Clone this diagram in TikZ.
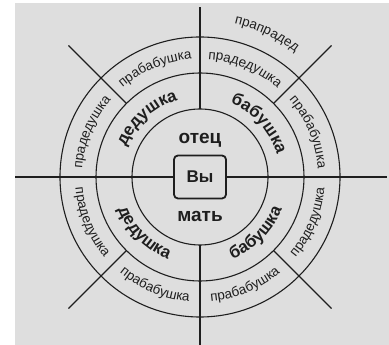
\documentclass[tikz,border=0pt]{standalone}
\usepackage{fontspec}
\setmainfont{Liberation Sans}
\usetikzlibrary{positioning}
\usetikzlibrary{decorations.text}
\definecolor{bggray}{RGB}{222,222,222}
\definecolor{inkgray}{RGB}{30,30,30}
\newcommand{\greatfont}{\fontsize{13.5}{16}\selectfont}
\newcommand{\grandfont}{\fontsize{17}{20}\selectfont\bfseries}
\tikzset{
        ring/.style={draw=inkgray, line width=1.1pt},
        spoke/.style={draw=inkgray, line width=1.1pt},
        youbox/.style={draw=inkgray, line width=1.8pt, rounded corners=4pt,
          minimum width=52pt, minimum height=43pt, inner sep=0pt,
          font=\fontsize{17}{20}\selectfont\bfseries, text=inkgray},
        parent/.style={font=\fontsize{19}{22}\selectfont\bfseries, text=inkgray},
        arclabel/.style={decorate, decoration={text along path, text align=center,
          text color=inkgray, text={#1}}},
}

\begin{document}
\begin{tikzpicture}
      \useasboundingbox (0,0) rectangle (389pt,345pt);
      \fill[bggray] (15pt,0) rectangle (389pt,342pt);
      \begin{scope}[shift={(200pt,168pt)}]
        % rings
        \draw[ring] (0,0) circle[radius=68pt];
        \draw[ring] (0,0) circle[radius=104pt];
        \draw[ring] (0,0) circle[radius=140pt];

        % centre
        \node[youbox] (you) at (0,0) {Вы};
        \node[parent] (father) at (0,37pt) {отец};
        \node[parent] (mother) at (0,-39pt) {мать};

        % axes
        \coordinate (northin) at (90:68pt);
        \coordinate (northend) at (0,170pt);
        \coordinate (southin) at (-90:68pt);
        \coordinate (southend) at (0,-168pt);
        \coordinate (westend) at (-185pt,0);
        \coordinate (eastend) at (187pt,0);
        \draw[spoke] (northin) -- (northend);
        \draw[spoke] (southin) -- (southend);
        \draw[spoke] (you.west) -- (westend);
        \draw[spoke] (you.east) -- (eastend);

        % diagonals
        \foreach \a in {45,135,225,315}
          \draw[spoke] (\a:104pt) -- (\a:186pt);

        % grandparents
        \path[arclabel={|\grandfont|дедушка}] (180:80pt) arc[start angle=180, end angle=84, radius=80pt];
        \path[arclabel={|\grandfont|бабушка}] (88:80pt) arc[start angle=88, end angle=-4, radius=80pt];
        \path[arclabel={|\grandfont|дедушка}] (180:88pt) arc[start angle=180, end angle=270, radius=88pt];
        \path[arclabel={|\grandfont|бабушка}] (270:88pt) arc[start angle=270, end angle=360, radius=88pt];

        % great-grandparents
        \path[arclabel={|\greatfont|прадедушка}] (180:118pt) arc[start angle=180, end angle=135, radius=118pt];
        \path[arclabel={|\greatfont|прабабушка}] (135:118pt) arc[start angle=135, end angle=90, radius=118pt];
        \path[arclabel={|\greatfont|прадедушка}] (90:118pt) arc[start angle=90, end angle=45, radius=118pt];
        \path[arclabel={|\greatfont|прабабушка}] (45:118pt) arc[start angle=45, end angle=0, radius=118pt];
        \path[arclabel={|\greatfont|прадедушка}] (180:125pt) arc[start angle=180, end angle=225, radius=125pt];
        \path[arclabel={|\greatfont|прабабушка}] (225:125pt) arc[start angle=225, end angle=270, radius=125pt];
        \path[arclabel={|\greatfont|прабабушка}] (270:125pt) arc[start angle=270, end angle=315, radius=125pt];
        \path[arclabel={|\greatfont|прадедушка}] (315:125pt) arc[start angle=315, end angle=360, radius=125pt];

        % outside
        \path[arclabel={|\greatfont|прапрадед}] (100:157pt) arc[start angle=100, end angle=30, radius=157pt];
      \end{scope}
\end{tikzpicture}
\end{document}
